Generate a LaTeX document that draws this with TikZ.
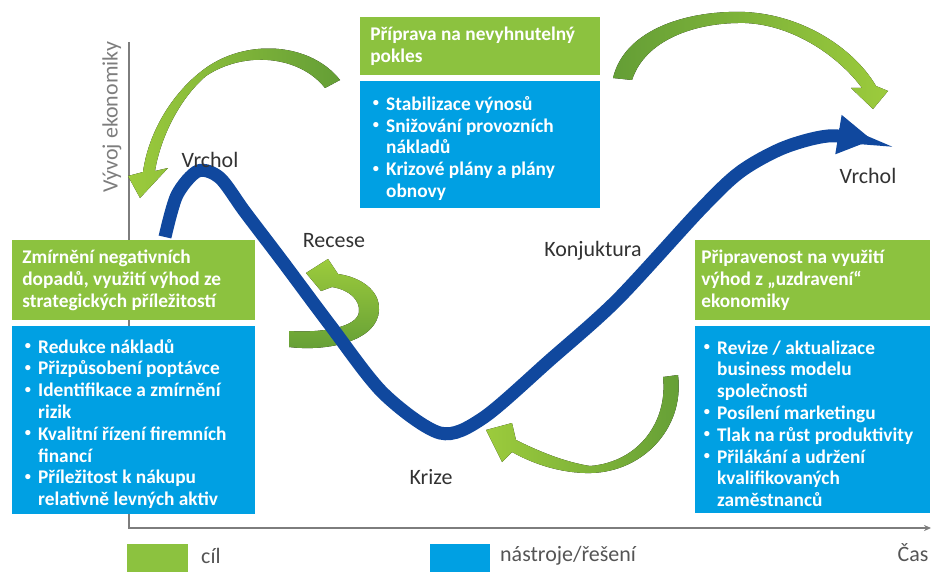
\documentclass[tikz,border=0pt]{standalone}
\usepackage{fontspec}
\setmainfont{Carlito}
\usetikzlibrary{positioning,arrows.meta}

\definecolor{goalgreen}{RGB}{140,194,63}
\definecolor{toolblue}{RGB}{0,160,227}
\definecolor{curveblue}{RGB}{16,72,158}
\definecolor{arrowlight}{RGB}{156,203,60}
\definecolor{arrowdark}{RGB}{100,158,54}
\definecolor{axisgray}{RGB}{125,125,125}
\definecolor{labelgray}{RGB}{50,50,50}
\definecolor{keygray}{RGB}{85,85,85}

% bullet line with hanging indent
\newcommand{\bitem}[1]{\par\noindent\hangindent=9pt\hangafter=1\hbox to 9pt{\hskip1.5pt\raisebox{0.18em}{\fontsize{7}{7}\selectfont\textbullet}\hfil}#1\par}

\tikzset{
	boxtext/.style={text=white, align=flush left, inner ysep=0pt, font=\bfseries\fontsize{11}{12.4}\selectfont},
	goalbox/.style={boxtext, fill=goalgreen, inner xsep=0.2cm},
	toolbox/.style={boxtext, fill=toolblue, inner xsep=0.2cm},
	phase/.style={text=labelgray, font=\fontsize{12.5}{14}\selectfont},
	keytext/.style={text=keygray, anchor=west, font=\fontsize{12.5}{14}\selectfont},
	axis/.style={axisgray, line width=0.8pt},
	curve/.style={curveblue, line width=0.26cm, -{Triangle[length=0.68cm,width=0.8cm,line width=0pt]}},
}

\begin{document}
\begin{tikzpicture}[x=0.02cm,y=-0.02cm]
		\useasboundingbox (0,0) rectangle (932,571);
		
		%axes
		\coordinate (yTop) at (129,42);
		\coordinate (origin) at (129,528);
		\coordinate (xEnd) at (931,528);
		\draw[axis, -{Stealth[length=4pt,width=3.5pt]}] (yTop) -- (origin) -- (xEnd);
		\node[rotate=90, text=axisgray, font=\fontsize{12.5}{14}\selectfont] (yLabel) at (112,117) {Vývoj ekonomiky};
		\node[keytext, anchor=center] (xLabel) at (913,553) {Čas};
		
		%green arrows
		\fill[left color=arrowlight, right color=arrowdark]
			(340,80) .. controls (310,42) and (245,38) .. (203,70)
			.. controls (170,95) and (148,135) .. (143,172)
			-- (128,176) -- (140,198) -- (168,168) -- (155,171)
			.. controls (160,140) and (178,100) .. (206,76)
			.. controls (245,50) and (300,56) .. (325,88) -- cycle;
		\fill[left color=arrowdark, right color=arrowlight]
			(613,78) .. controls (625,28) and (690,10) .. (745,12)
			.. controls (805,15) and (855,50) .. (876,86)
			-- (888,91) -- (873,109) -- (851,88) -- (862,88)
			.. controls (840,58) and (795,25) .. (745,23)
			.. controls (695,22) and (645,40) .. (632,80) -- cycle;
		\fill[top color=arrowlight, bottom color=arrowdark]
			(289,347) .. controls (330,352) and (378,340) .. (379,310)
			.. controls (380,290) and (360,277) .. (338,274)
			-- (328,259) -- (306,273) -- (321,291) -- (332,287)
			.. controls (350,290) and (360,300) .. (359,312)
			.. controls (357,328) and (320,333) .. (289,331) -- cycle;
		\fill[left color=arrowlight, right color=arrowdark]
			(678,375) .. controls (685,430) and (640,475) .. (585,473)
			.. controls (555,472) and (530,462) .. (512,452)
			-- (502,462) -- (486,430) -- (512,423) -- (516,440)
			.. controls (540,452) and (565,462) .. (590,466)
			.. controls (640,462) and (668,420) .. (663,377) -- cycle;
		
		%business cycle
		\draw[curve] plot[smooth] coordinates {(165,237) (177,195) (198,171) (220,178) (245,212) (283,262) (330,325) (383,393) (440,433) (483,418) (550,360) (617,300) (700,210) (740,172) (783,148) (828,136) (872,140)};
		
		%goals and tools
		\node[goalbox, text width=4.46cm, minimum height=1.6cm, anchor=north west] (goalL) at (12,240)
			{Zmírnění negativních\newline dopadů, využití výhod ze\newline strategických příležitostí};
		\node[toolbox, text width=4.46cm, minimum height=3.76cm, below=1mm of goalL] (toolL)
			{\bitem{Redukce nákladů}
			\bitem{Přizpůsobení poptávce}
			\bitem{Identifikace a zmírnění\newline rizik}
			\bitem{Kvalitní řízení firemních\newline financí}
			\bitem{Příležitost k nákupu\newline relativně levných aktiv}};
		
		\node[goalbox, text width=4.4cm, minimum height=1.16cm, anchor=north west] (goalT) at (360,17)
			{Příprava na nevyhnutelný\newline pokles};
		\node[toolbox, text width=4.4cm, minimum height=2.54cm, below=1mm of goalT] (toolT)
			{\bitem{Stabilizace výnosů}
			\bitem{Snižování provozních\newline nákladů}
			\bitem{Krizové plány a plány\newline obnovy}};
		
		\node[goalbox, inner xsep=0.12cm, text width=4.46cm, minimum height=1.6cm, anchor=north west] (goalR) at (695,240)
			{Připravenost na využití\newline výhod z „uzdravení“\newline ekonomiky};
		\node[toolbox, inner xsep=0.12cm, text width=4.46cm, minimum height=3.74cm, below=1mm of goalR] (toolR)
			{\bitem{Revize / aktualizace\newline business modelu\newline společnosti}
			\bitem{Posílení marketingu}
			\bitem{Tlak na růst produktivity}
			\bitem{Přilákání a udržení\newline kvalifikovaných\newline zaměstnanců}};
		
		%phases
		\node[phase] (peakL) at (210,160) {Vrchol};
		\node[phase] (recese) at (334,241) {Recese};
		\node[phase] (krize) at (431,477) {Krize};
		\node[phase] (konj) at (593,251) {Konjuktura};
		\node[phase] (peakR) at (868,176) {Vrchol};
		
		%key
		\fill[goalgreen] (127,544) rectangle (188,575);
		\fill[toolblue] (430,544) rectangle (490,575);
		\node[keytext] (keyGoal) at (195,556) {cíl};
		\node[keytext] (keyTool) at (494,556) {nástroje/řešení};
\end{tikzpicture}
\end{document}
